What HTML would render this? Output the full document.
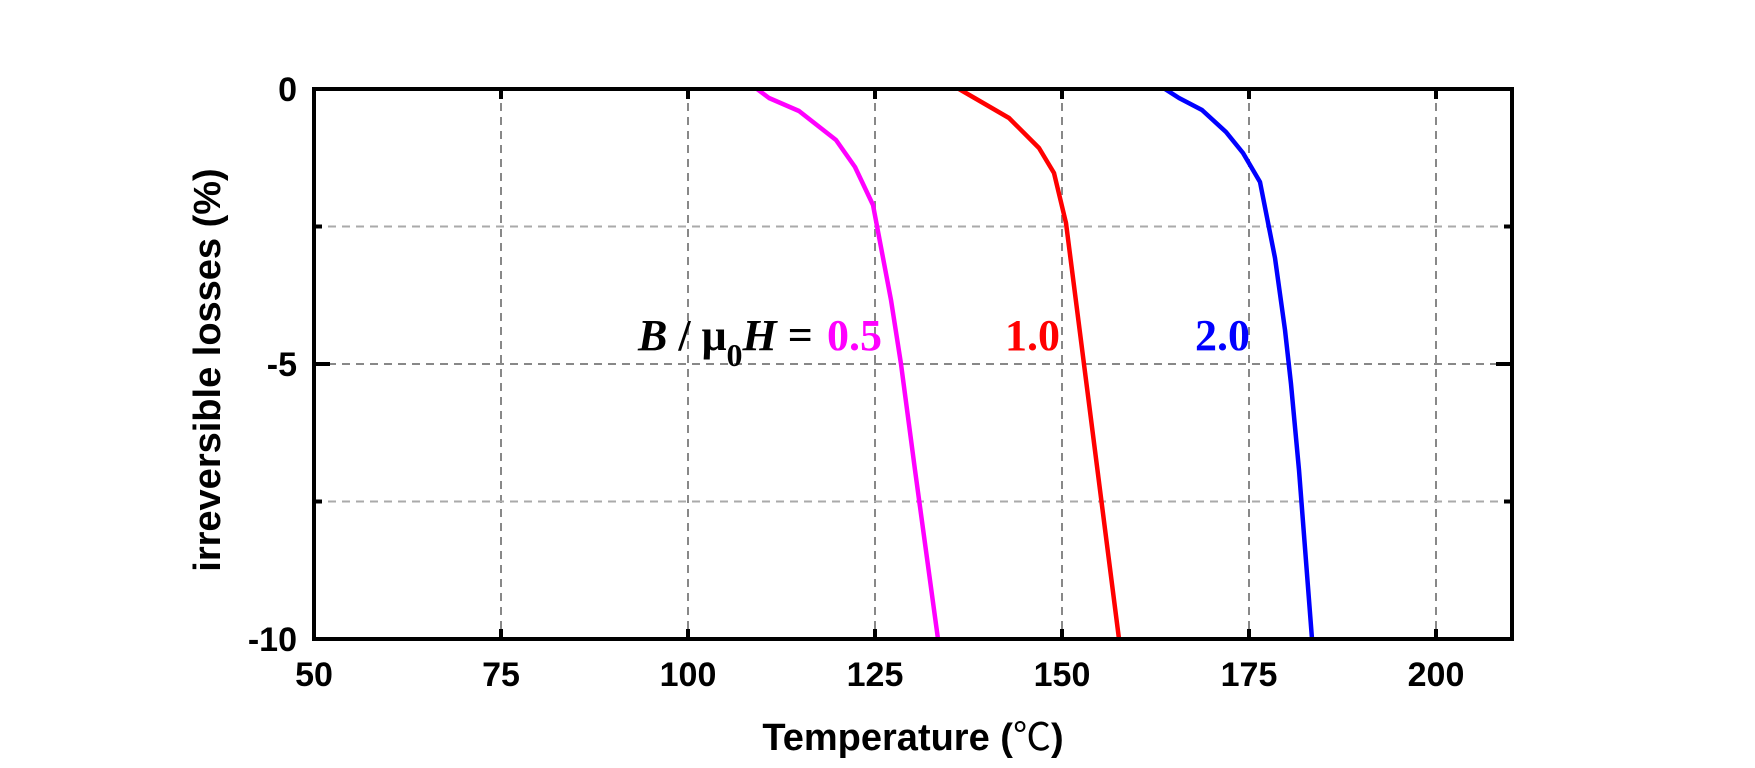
<!DOCTYPE html>
<html><head><meta charset="utf-8"><style>html,body{margin:0;padding:0;background:#fff}svg{display:block}</style></head>
<body>
<svg width="1755" height="768" viewBox="0 0 1755 768" xmlns="http://www.w3.org/2000/svg">
<g stroke="#888" stroke-width="2" stroke-dasharray="8,6" fill="none">
<line x1="501" y1="89" x2="501" y2="639"/><line x1="688" y1="89" x2="688" y2="639"/><line x1="875" y1="89" x2="875" y2="639"/><line x1="1062" y1="89" x2="1062" y2="639"/><line x1="1249" y1="89" x2="1249" y2="639"/><line x1="1436" y1="89" x2="1436" y2="639"/>
<line x1="314" y1="226.5" x2="1512" y2="226.5" stroke="#aaa"/><line x1="314" y1="364" x2="1512" y2="364"/><line x1="314" y1="501.5" x2="1512" y2="501.5" stroke="#aaa"/>
</g>
<g stroke="#000" stroke-width="4">
<line x1="501" y1="89" x2="501" y2="99"/><line x1="688" y1="89" x2="688" y2="99"/><line x1="875" y1="89" x2="875" y2="99"/><line x1="1062" y1="89" x2="1062" y2="99"/><line x1="1249" y1="89" x2="1249" y2="99"/><line x1="1436" y1="89" x2="1436" y2="99"/>
<line x1="501" y1="639" x2="501" y2="629"/><line x1="688" y1="639" x2="688" y2="629"/><line x1="875" y1="639" x2="875" y2="629"/><line x1="1062" y1="639" x2="1062" y2="629"/><line x1="1249" y1="639" x2="1249" y2="629"/><line x1="1436" y1="639" x2="1436" y2="629"/>
<line x1="314" y1="226.5" x2="322" y2="226.5"/><line x1="314" y1="364" x2="330" y2="364"/><line x1="314" y1="501.5" x2="322" y2="501.5"/>
<line x1="1512" y1="226.5" x2="1504" y2="226.5"/><line x1="1512" y1="364" x2="1496" y2="364"/><line x1="1512" y1="501.5" x2="1504" y2="501.5"/>
</g>
<g fill="none" stroke-width="4.5" stroke-linejoin="round">
<polyline stroke="#ff00ff" points="757,89 769,98 799,111 836,140 855,167 873,205 891,300 901,364 915,470 938,639"/>
<polyline stroke="#ff0000" points="959,89 978,100 1009,118 1039,148 1054,173 1066,223 1119,639"/>
<polyline stroke="#0000ff" points="1165,89 1179,98 1202,110 1226,132 1243,153 1260,182 1275,258 1285,330 1291,384 1299,470 1312,639"/>
</g>
<rect x="314" y="89" width="1198" height="550" fill="none" stroke="#000" stroke-width="4"/>
<g font-family="Liberation Sans, Arial, sans-serif" font-weight="bold" font-size="34" fill="#000">
<g text-anchor="end"><text x="297" y="101">0</text><text x="297" y="376">-5</text><text x="297" y="651">-10</text></g>
<g text-anchor="middle"><text x="314" y="686">50</text><text x="501" y="686">75</text><text x="688" y="686">100</text><text x="875" y="686">125</text><text x="1062" y="686">150</text><text x="1249" y="686">175</text><text x="1436" y="686">200</text></g>
<text x="913" y="750" text-anchor="middle" font-size="38">Temperature (<tspan font-family="Noto Sans CJK SC, sans-serif" font-weight="normal">℃</tspan>)</text>
<text transform="translate(220,370) rotate(-90)" text-anchor="middle" font-size="38">irreversible losses (%)</text>
</g>
<g font-family="Liberation Serif, Times New Roman, serif" font-weight="bold" font-size="44">
<text x="638" y="350" fill="#000"><tspan font-style="italic">B</tspan> / μ<tspan font-size="32" dy="16">0</tspan><tspan dy="-16" font-style="italic">H</tspan> = </text>
<text x="827" y="350" fill="#ff00ff">0.5</text>
<text x="1005" y="350" fill="#ff0000">1.0</text>
<text x="1195" y="350" fill="#0000ff">2.0</text>
</g>
</svg>
</body></html>
